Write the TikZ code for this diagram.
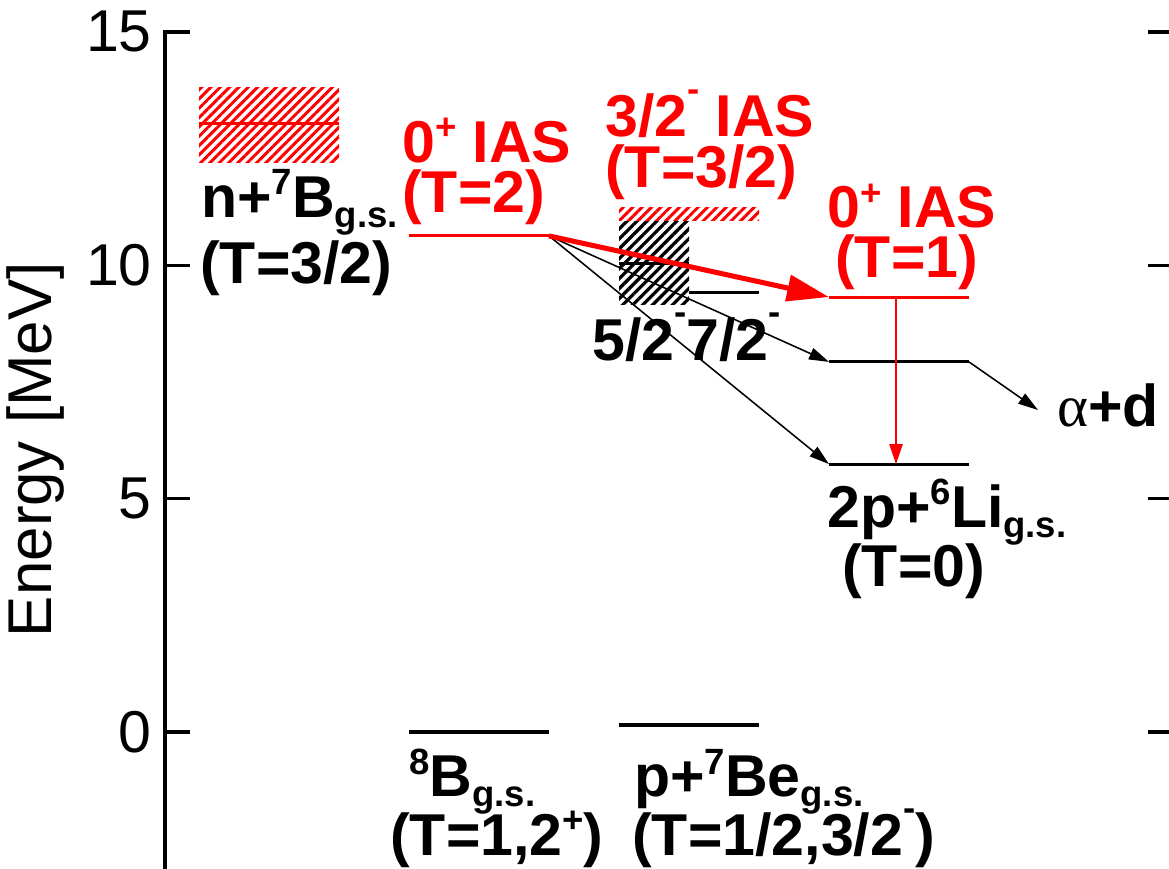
\documentclass[tikz,border=0pt]{standalone}
\usepackage{fontspec}
\setmainfont{Liberation Sans}
\newfontfamily\greekfont{Liberation Serif}
\usetikzlibrary{arrows.meta,patterns.meta}

% raised and lowered indices
\newcommand{\spx}[1]{\raisebox{0.38em}{\fontsize{26}{26}\selectfont #1}}
\newcommand{\sbx}[1]{\raisebox{-0.17em}{\fontsize{26}{26}\selectfont #1}}
\newcommand{\spm}{\spx{\raisebox{0.35em}{-}}}

\tikzset{
    lvl/.style={line width=2.2pt},
    ias/.style={lvl, red},
    tick/.style={line width=2.2pt},
    hatchred/.style={pattern={Lines[angle=45,distance=4.7pt,line width=2.1pt]}, pattern color=red},
    hatchblack/.style={pattern={Lines[angle=45,distance=5pt,line width=2.3pt]}, pattern color=black},
    decay/.style={line width=1.1pt, -{Triangle[length=0.5cm,width=0.3cm]}},
    reddecay/.style={line width=1.4pt, red, -{Triangle[length=0.5cm,width=0.33cm]}},
    bigarrow/.style={line width=3.6pt, red, -{Triangle[length=1.05cm,width=0.65cm]}},
    lab/.style={font=\fontsize{42}{48}\selectfont\bfseries, inner sep=0pt, anchor=base west},
    labred/.style={lab, text=red},
    numlab/.style={font=\fontsize{42}{48}\selectfont, inner sep=0pt, anchor=east},
}

\begin{document}
\begin{tikzpicture}[x=1cm, y=1.16675cm]
    \def\lw{3.5}

    \useasboundingbox (-4.125,-2.914) rectangle (25.1,15.685);

    % Draw axis and ticks
    \draw[line width=2.8pt] (0.625,15) -- (0,15) -- (0,-3);
    \foreach \e in {0,5,10}
        \draw[tick] (0,\e) -- (0.625,\e);
    \foreach \e in {0,5,10,15} {
        \node[numlab] (num\e) at (-0.325,\e) {\e};
        \draw[tick] (24.575,\e) -- (25.2,\e);
    }
    \node[font=\fontsize{44}{50}\selectfont, rotate=90, anchor=base, inner sep=0pt] (ylab) at (-2.825,6.05) {Energy [MeV]};

    % Hatched widths
    \fill[hatchred] (0.85,12.21) rectangle (0.85+\lw,13.80);
    \fill[hatchred] (11.35,10.97) rectangle (11.35+\lw,11.23);
    \fill[hatchblack] (11.35,9.15) rectangle (13.1,10.93);

    % Levels
    \draw[ias] (0.85,13.03) -- ++(\lw,0);
    \draw[ias] (6.1,10.63) coordinate (ias2L) -- ++(\lw,0) coordinate (ias2R);
    \draw[lvl] (6.1,0) coordinate (bgsL) -- ++(\lw,0);
    \draw[lvl] (11.35,0.15) coordinate (begsL) -- ++(\lw,0);
    \draw[lvl] (11.35,10.03) -- (13.1,10.03);
    \draw[lvl] (13.1,9.41) -- (14.85,9.41);
    \draw[ias] (16.6,9.32) coordinate (ias1L) -- ++(\lw,0) coordinate (ias1R);
    \draw[lvl] (16.6,7.93) coordinate (adL) -- ++(\lw,0) coordinate (adR);
    \draw[lvl] (16.6,5.74) coordinate (liL) -- ++(\lw,0) coordinate (liR);

    \coordinate (ias1M) at (18.275,9.32);
    \coordinate (liM) at (18.275,5.74);
    \coordinate (adTip) at (21.825,6.90);

    % Decays
    \draw[decay] (ias2R) -- (adL);
    \draw[decay] (ias2R) -- (liL);
    \draw[bigarrow] (ias2R) -- (ias1L);
    \draw[reddecay] (ias1M) -- (liM);
    \draw[decay] (adR) -- (adTip);

    % Labels
    \node[lab] (n7b) at (0.9,11.035) {n+\spx{7}B\sbx{g.s.}};
    \node[lab] (n7bT) at (0.875,9.62) {(T=3/2)};
    \node[labred] (ias2) at (5.925,12.21) {0\spx{+} IAS};
    \node[labred] (ias2T) at (5.925,11.14) {(T=2)};
    \node[labred] (ias32) at (11.0,12.75) {3/2\spm{} IAS};
    \node[labred] (ias32T) at (11.0,11.66) {(T=3/2)};
    \node[labred] (ias1) at (16.55,10.8) {0\spx{+} IAS};
    \node[labred] (ias1T) at (16.75,9.73) {(T=1)};
    \node[lab] (be7x) at (10.675,7.97) {5/2\spm 7/2\spm};
    \node[lab] (li6) at (16.55,4.39) {2p+\spx{6}Li\sbx{g.s.}};
    \node[lab] (li6T) at (16.925,3.11) {(T=0)};
    \node[lab] (ad) at (22.3,6.54) {{\greekfont\mdseries α}+d};
    \node[lab] (bgs) at (6.1,-1.39) {\spx{8}B\sbx{g.s.}};
    \node[lab] (bgsT) at (5.625,-2.64) {(T=1,2\spx{+})};
    \node[lab] (begs) at (11.725,-1.39) {p+\spx{7}Be\sbx{g.s.}};
    \node[lab] (begsT) at (11.675,-2.64) {(T=1/2,3/2\spm)};

\end{tikzpicture}
\end{document}
